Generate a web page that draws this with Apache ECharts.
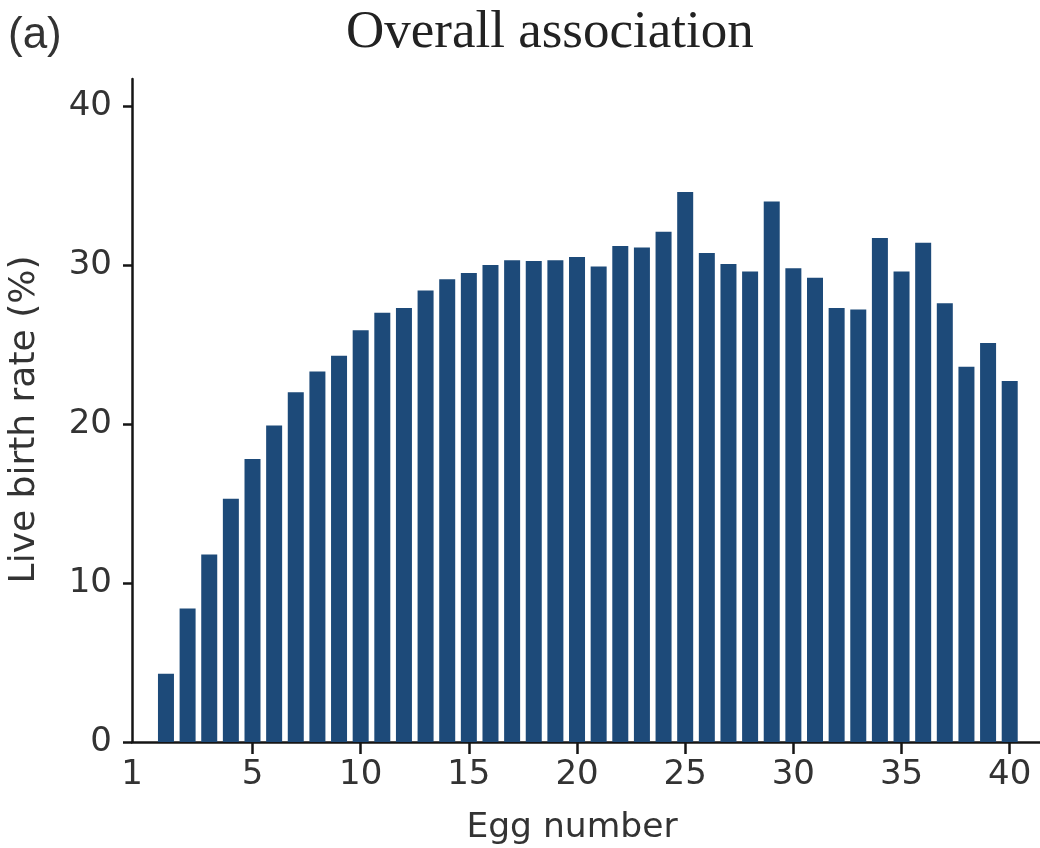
<!DOCTYPE html>
<html lang="en">
<head>
    <meta charset="UTF-8">
    <title>Overall association</title>
    <script src="https://cdn.jsdelivr.net/npm/echarts@6.0.0/dist/echarts.min.js"></script>
    <style>
        html, body { margin: 0; padding: 0; background: #ffffff; }
        #chart { width: 1040px; height: 848px; }
    </style>
</head>
<body>
<div id="chart"></div>

<script>
    // egg number 1..40
    var eggNumbers = [1, 2, 3, 4, 5, 6, 7, 8, 9, 10,
        11, 12, 13, 14, 15, 16, 17, 18, 19, 20,
        21, 22, 23, 24, 25, 26, 27, 28, 29, 30,
        31, 32, 33, 34, 35, 36, 37, 38, 39, 40];
    // live birth rate (%)
    var liveBirthRate = [4.3, 8.4, 11.8, 15.3, 17.8, 19.9, 22.0, 23.3, 24.3, 25.9,
        27.0, 27.3, 28.4, 29.1, 29.5, 30.0, 30.3, 30.25, 30.3, 30.5,
        29.9, 31.2, 31.1, 32.1, 34.6, 30.75, 30.06, 29.6, 34.0, 29.8,
        29.2, 27.3, 27.2, 31.7, 29.6, 31.4, 27.6, 23.6, 25.1, 22.7];

    var xTicks = [5, 10, 15, 20, 25, 30, 35, 40];
    var xStartLabel = '1';   // the label printed at the start of the axis
    var yTicks = [0, 10, 20, 30, 40];

    var xMin = -0.57, xMax = 41.4;
    var yMax = 41.7;

    var axisColor = '#151515';
    var labelColor = '#333333';
    var sansFont = 'DejaVu Sans';

    var barData = eggNumbers.map(function (n, i) { return [n, liveBirthRate[i]]; });

    var chart = echarts.init(document.getElementById('chart'));
    chart.setOption({
        animation: false,
        backgroundColor: '#ffffff',
        title: [
            {
                text: 'Overall association',
                left: 346, top: 7, padding: 0,
                textStyle: { fontFamily: 'Liberation Serif', fontSize: 53, fontWeight: 'normal', color: '#222222' }
            },
            {
                text: '(a)',
                left: 8, top: 14, padding: 0,
                textStyle: { fontFamily: 'Liberation Sans', fontSize: 44, fontWeight: 'normal', color: '#333333' }
            }
        ],
        grid: { left: 132, right: 0, top: 79, bottom: 106, outerBoundsMode: 'none' },
        xAxis: {
            type: 'value',
            min: xMin,
            max: xMax,
            name: 'Egg number',
            nameLocation: 'middle',
            nameGap: 69,
            nameTextStyle: { fontFamily: sansFont, fontSize: 34.5, color: labelColor, padding: [0, 28, 0, 0] },
            axisLine: { show: true, onZero: false, lineStyle: { color: axisColor, width: 2.5 } },
            axisTick: { show: true, length: 12, customValues: xTicks, lineStyle: { color: axisColor, width: 2.5 } },
            axisLabel: {
                customValues: [xMin].concat(xTicks),
                formatter: function (v) { return v === xMin ? xStartLabel : String(v); },
                margin: 16,
                fontFamily: sansFont, fontSize: 34, color: labelColor
            },
            splitLine: { show: false }
        },
        yAxis: {
            type: 'value',
            min: 0,
            max: yMax,
            name: 'Live birth rate (%)',
            nameLocation: 'middle',
            nameGap: 89,
            nameTextStyle: { fontFamily: sansFont, fontSize: 36, color: labelColor, padding: [0, 18, 0, 0] },
            axisLine: { show: true, onZero: false, lineStyle: { color: axisColor, width: 2.5 } },
            axisTick: { show: true, length: 9, customValues: yTicks, lineStyle: { color: axisColor, width: 2.5 } },
            axisLabel: {
                customValues: yTicks,
                margin: 20,
                fontFamily: sansFont, fontSize: 34, color: labelColor
            },
            splitLine: { show: false }
        },
        series: [{
            type: 'bar',
            data: barData,
            barWidth: 16,
            itemStyle: { color: '#1d4a79' }
        }]
    });
</script>
</body>
</html>
